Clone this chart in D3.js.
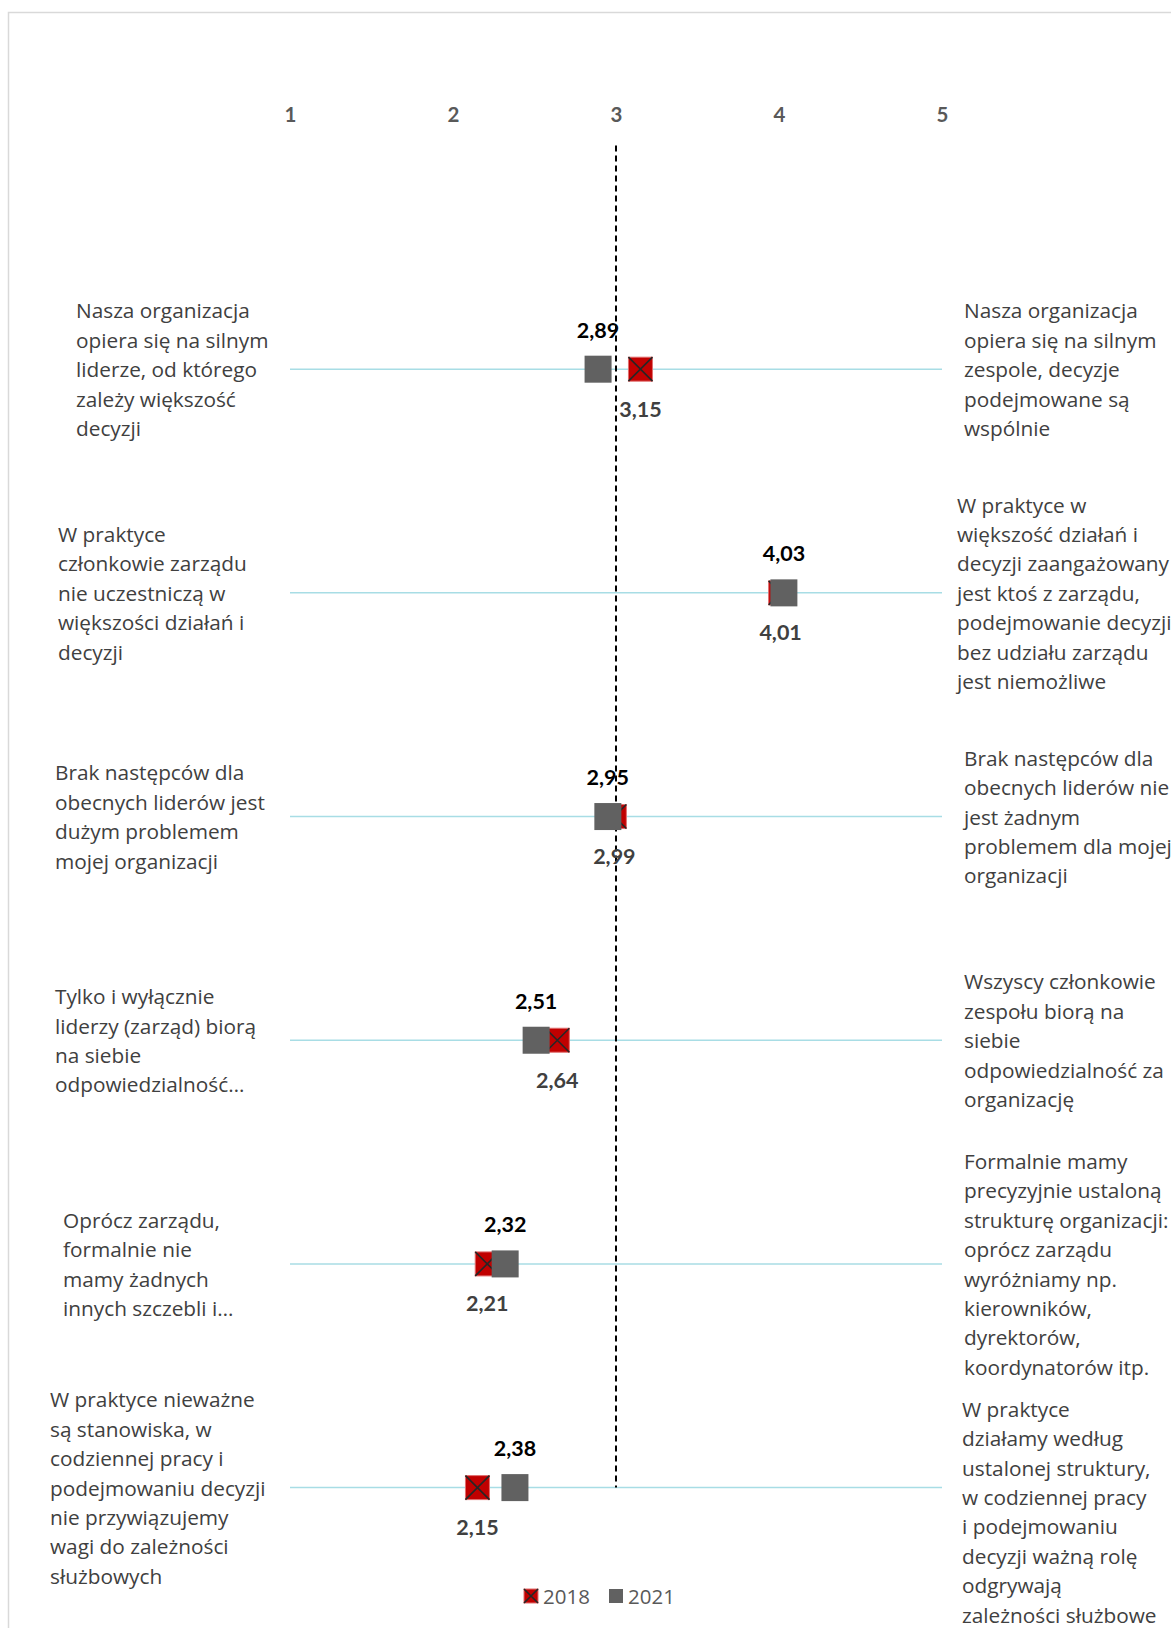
<!DOCTYPE html>
<html><head><meta charset="utf-8">
<script src="https://cdn.jsdelivr.net/npm/d3@7"></script>
<style>
html,body{margin:0;padding:0;background:#fff;overflow:hidden;}
svg{display:block;}
</style></head>
<body>
<svg id="chart" width="1171" height="1628"></svg>
<script>
// ---- data ----
const ticks = [1, 2, 3, 4, 5];
const leftLabels = [
  ["Nasza organizacja", "opiera się na silnym", "liderze, od którego", "zależy większość", "decyzji"],
  ["W praktyce", "członkowie zarządu", "nie uczestniczą w", "większości działań i", "decyzji"],
  ["Brak następców dla", "obecnych liderów jest", "dużym problemem", "mojej organizacji"],
  ["Tylko i wyłącznie", "liderzy (zarząd) biorą", "na siebie", "odpowiedzialność…"],
  ["Oprócz zarządu,", "formalnie nie", "mamy żadnych", "innych szczebli i…"],
  ["W praktyce nieważne", "są stanowiska, w", "codziennej pracy i", "podejmowaniu decyzji", "nie przywiązujemy", "wagi do zależności", "służbowych"]
];
const rightLabels = [
  ["Nasza organizacja", "opiera się na silnym", "zespole, decyzje", "podejmowane są", "wspólnie"],
  ["W praktyce w", "większość działań i", "decyzji zaangażowany", "jest ktoś z zarządu,", "podejmowanie decyzji", "bez udziału zarządu", "jest niemożliwe"],
  ["Brak następców dla", "obecnych liderów nie", "jest żadnym", "problemem dla mojej", "organizacji"],
  ["Wszyscy członkowie", "zespołu biorą na", "siebie", "odpowiedzialność za", "organizację"],
  ["Formalnie mamy", "precyzyjnie ustaloną", "strukturę organizacji:", "oprócz zarządu", "wyróżniamy np.", "kierowników,", "dyrektorów,", "koordynatorów itp."],
  ["W praktyce", "działamy według", "ustalonej struktury,", "w codziennej pracy", "i podejmowaniu", "decyzji ważną rolę", "odgrywają", "zależności służbowe"]
];
const values2018 = [3.15, 4.01, 2.99, 2.64, 2.21, 2.15];
const values2021 = [2.89, 4.03, 2.95, 2.51, 2.32, 2.38];
const seriesNames = ["2018", "2021"];
const midValue = 3;

// ---- layout ----
const leftTextX = [76, 58, 55, 55, 63, 50];
const rightTextX = [964, 957, 964, 964, 964, 962];
const rightTextDy = [0, 0, 0, 0, 0, 24];
const lineH = 29.4;

const svg = d3.select("#chart");
const x = d3.scaleLinear().domain([1, 5]).range([290, 942]);
const y = d3.scaleLinear().domain([0, 6]).range([145.5, 1487.6]);
const fmt = v => d3.format(".2f")(v).replace(".", ",");

// border
svg.append("rect").attr("x", 8.5).attr("y", 12.5).attr("width", 1200).attr("height", 1700)
  .attr("fill", "none").attr("stroke", "#d9d9d9").attr("stroke-width", 1.5);

// tick labels on top
const axis = d3.axisTop(x).tickValues(ticks).tickSize(0).tickFormat(d3.format("d"));
const ax = svg.append("g").attr("transform", "translate(0,125)").call(axis);
ax.select(".domain").remove();
ax.selectAll("text").attr("font-family", "Lato, 'Open Sans', sans-serif").attr("font-weight", "bold")
  .attr("font-size", 20.5).attr("fill", "#595959");

const rows = d3.range(values2018.length);

// horizontal lines
svg.append("g").selectAll("line").data(rows).join("line")
  .attr("x1", x(1)).attr("x2", x(5))
  .attr("y1", i => y(i + 1)).attr("y2", i => y(i + 1))
  .attr("stroke", "#a8dde5").attr("stroke-width", 1.5);

// dashed midline
svg.append("line").attr("x1", x(midValue)).attr("x2", x(midValue))
  .attr("y1", y(0)).attr("y2", y(6))
  .attr("stroke", "#000").attr("stroke-width", 2).attr("stroke-dasharray", "6,4");

// text blocks
function block(lines, x0, cy, g) {
  const n = lines.length;
  const t = g.append("text").attr("font-family", "'Open Sans', sans-serif").attr("font-size", 20.8)
    .attr("fill", "#404040");
  lines.forEach((l, k) => {
    t.append("tspan").attr("x", x0).attr("y", cy + (k - (n - 1) / 2) * lineH)
      .attr("dominant-baseline", "central").text(l);
  });
}
const gl = svg.append("g");
rows.forEach(i => {
  block(leftLabels[i], leftTextX[i], y(i + 1), gl);
  block(rightLabels[i], rightTextX[i], y(i + 1) + rightTextDy[i], gl);
});

// markers
const s18 = 24, s21 = 27;
function redMarker(g, cx, cy, s) {
  g.append("rect").attr("x", cx - s / 2).attr("y", cy - s / 2).attr("width", s).attr("height", s)
    .attr("fill", "#c00000").attr("stroke", "#e07070").attr("stroke-width", 1);
  g.append("path").attr("d", `M${cx - s / 2},${cy - s / 2}L${cx + s / 2},${cy + s / 2}M${cx + s / 2},${cy - s / 2}L${cx - s / 2},${cy + s / 2}`)
    .attr("stroke", "#262626").attr("stroke-width", 1.6);
}
function grayMarker(g, cx, cy, s) {
  g.append("rect").attr("x", cx - s / 2).attr("y", cy - s / 2).attr("width", s).attr("height", s)
    .attr("fill", "#616161");
}
const gm = svg.append("g");
rows.forEach(i => redMarker(gm, x(values2018[i]), y(i + 1), s18));
rows.forEach(i => grayMarker(gm, x(values2021[i]), y(i + 1), s21));

// value labels
svg.append("g").selectAll("text").data(rows).join("text")
  .attr("x", i => x(values2021[i])).attr("y", i => y(i + 1) - 39.5)
  .attr("text-anchor", "middle").attr("dominant-baseline", "central")
  .attr("font-family", "Lato, sans-serif").attr("font-weight", "bold").attr("font-size", 21.5)
  .attr("fill", "#000").text(i => fmt(values2021[i]));
svg.append("g").selectAll("text").data(rows).join("text")
  .attr("x", i => x(values2018[i])).attr("y", i => y(i + 1) + 39.5)
  .attr("text-anchor", "middle").attr("dominant-baseline", "central")
  .attr("font-family", "Lato, sans-serif").attr("font-weight", "bold").attr("font-size", 21.5)
  .attr("fill", "#404040").text(i => fmt(values2018[i]));

// legend
const lg = svg.append("g");
const ly = 1596;
redMarker(lg, 531, ly, 14);
lg.append("text").attr("x", 543).attr("y", ly).attr("dominant-baseline", "central")
  .attr("font-family", "'Open Sans', sans-serif").attr("font-size", 20.5).attr("fill", "#595959").text(seriesNames[0]);
grayMarker(lg, 616, ly, 14);
lg.append("text").attr("x", 628).attr("y", ly).attr("dominant-baseline", "central")
  .attr("font-family", "'Open Sans', sans-serif").attr("font-size", 20.5).attr("fill", "#595959").text(seriesNames[1]);
</script>
</body></html>
